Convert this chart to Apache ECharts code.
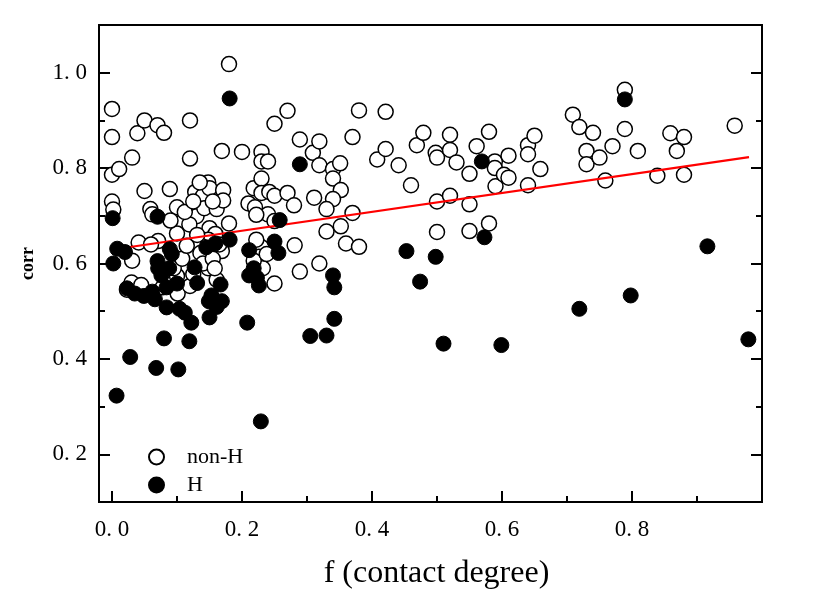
<!DOCTYPE html>
<html>
<head>
<meta charset="utf-8">
<script src="https://cdn.jsdelivr.net/npm/echarts@6/dist/echarts.min.js"></script>
<style>
  html, body { margin: 0; padding: 0; background: #fff; }
  #main { width: 830px; height: 601px; }
</style>
</head>
<body>
<div id="main"></div>
<script>
// non-H residues: [f, corr]
const nonH = [
  [0.18, 1.018], [0.789, 0.964], [0.0, 0.924], [0.0, 0.865], [0.0, 0.786], [0.0, 0.73], [0.002, 0.713],
  [0.011, 0.798], [0.031, 0.822], [0.039, 0.873], [0.05, 0.9], [0.07, 0.89], [0.08, 0.874], [0.12, 0.9],
  [0.12, 0.82], [0.05, 0.752], [0.089, 0.756], [0.059, 0.714], [0.062, 0.703], [0.1, 0.718], [0.108, 0.687],
  [0.1, 0.663], [0.13, 0.699], [0.128, 0.75], [0.14, 0.742], [0.148, 0.77], [0.15, 0.758], [0.142, 0.716],
  [0.161, 0.714], [0.171, 0.754], [0.171, 0.732], [0.18, 0.684], [0.15, 0.674], [0.159, 0.662], [0.148, 0.65],
  [0.169, 0.836], [0.2, 0.834], [0.119, 0.682], [0.071, 0.647], [0.041, 0.644], [0.031, 0.606], [0.023, 0.545],
  [0.1, 0.574], [0.101, 0.537], [0.12, 0.553], [0.136, 0.638], [0.136, 0.622], [0.148, 0.59], [0.161, 0.566],
  [0.169, 0.626], [0.21, 0.726], [0.22, 0.718], [0.218, 0.758], [0.23, 0.778], [0.23, 0.748], [0.242, 0.75],
  [0.25, 0.742], [0.24, 0.703], [0.25, 0.689], [0.222, 0.702], [0.23, 0.834], [0.23, 0.814], [0.24, 0.814],
  [0.25, 0.893], [0.27, 0.92], [0.289, 0.86], [0.27, 0.748], [0.28, 0.722], [0.281, 0.638], [0.289, 0.583],
  [0.25, 0.558], [0.23, 0.634], [0.226, 0.614], [0.232, 0.59], [0.218, 0.606], [0.309, 0.832], [0.319, 0.856],
  [0.319, 0.806], [0.34, 0.798], [0.34, 0.778], [0.351, 0.81], [0.352, 0.754], [0.34, 0.735], [0.33, 0.714],
  [0.311, 0.738], [0.37, 0.706], [0.37, 0.865], [0.38, 0.921], [0.33, 0.667], [0.352, 0.678], [0.36, 0.642],
  [0.38, 0.635], [0.319, 0.6], [0.421, 0.918], [0.408, 0.818], [0.421, 0.84], [0.441, 0.806], [0.46, 0.764],
  [0.469, 0.848], [0.479, 0.874], [0.498, 0.832], [0.5, 0.822], [0.52, 0.87], [0.52, 0.838], [0.53, 0.812],
  [0.5, 0.73], [0.52, 0.742], [0.5, 0.666], [0.55, 0.788], [0.55, 0.724], [0.55, 0.668], [0.561, 0.846],
  [0.58, 0.876], [0.589, 0.814], [0.589, 0.8], [0.59, 0.762], [0.603, 0.786], [0.61, 0.826], [0.61, 0.78],
  [0.58, 0.684], [0.64, 0.848], [0.64, 0.829], [0.64, 0.764], [0.65, 0.868], [0.659, 0.798], [0.709, 0.912],
  [0.719, 0.886], [0.73, 0.836], [0.73, 0.808], [0.74, 0.874], [0.75, 0.822], [0.759, 0.774], [0.77, 0.846],
  [0.789, 0.882], [0.809, 0.836], [0.839, 0.784], [0.859, 0.873], [0.869, 0.836], [0.88, 0.865], [0.88, 0.786],
  [0.958, 0.889],
  [0.095, 0.59], [0.108, 0.61], [0.115, 0.637], [0.131, 0.66], [0.14, 0.6], [0.155, 0.61], [0.165, 0.64],
  [0.112, 0.708], [0.125, 0.73], [0.078, 0.55], [0.03, 0.56], [0.045, 0.555], [0.125, 0.578], [0.158, 0.59],
  [0.222, 0.65], [0.238, 0.62], [0.09, 0.69], [0.06, 0.64], [0.155, 0.73], [0.135, 0.77]
]

// H residues: [f, corr]
const hRes = [
  [0.181, 0.946], [0.789, 0.944], [0.289, 0.808], [0.569, 0.814], [0.001, 0.695], [0.07, 0.698], [0.258, 0.691],
  [0.008, 0.631], [0.02, 0.624], [0.002, 0.6], [0.181, 0.65], [0.159, 0.642], [0.145, 0.634], [0.089, 0.63],
  [0.092, 0.62], [0.211, 0.628], [0.25, 0.646], [0.256, 0.622], [0.573, 0.655], [0.453, 0.626], [0.498, 0.614],
  [0.916, 0.636], [0.07, 0.605], [0.071, 0.59], [0.088, 0.59], [0.076, 0.575], [0.127, 0.592], [0.131, 0.559],
  [0.1, 0.558], [0.167, 0.556], [0.023, 0.548], [0.035, 0.537], [0.049, 0.532], [0.062, 0.541], [0.066, 0.525],
  [0.084, 0.55], [0.211, 0.575], [0.218, 0.59], [0.223, 0.57], [0.226, 0.554], [0.34, 0.575], [0.342, 0.55],
  [0.474, 0.562], [0.153, 0.533], [0.169, 0.521], [0.149, 0.521], [0.161, 0.509], [0.15, 0.487], [0.084, 0.508],
  [0.104, 0.505], [0.112, 0.497], [0.122, 0.476], [0.208, 0.476], [0.342, 0.484], [0.719, 0.505], [0.798, 0.533],
  [0.305, 0.448], [0.33, 0.449], [0.08, 0.443], [0.119, 0.437], [0.51, 0.432], [0.599, 0.429], [0.979, 0.441],
  [0.028, 0.404], [0.068, 0.381], [0.102, 0.378], [0.007, 0.323], [0.229, 0.269]
]

// linear fit end points
const fitF = [0.025, 0.98]
const fitCorr = [0.634, 0.823]

const xMajor = [0, 0.2, 0.4, 0.6, 0.8]
const xMinor = [0.1, 0.3, 0.5, 0.7, 0.9]
const yMajor = [0.2, 0.4, 0.6, 0.8, 1.0]
const yMinor = [0.3, 0.5, 0.7, 0.9]

const serif = '"Liberation Serif", "DejaVu Serif", serif'
const lineStyle = { color: '#000', width: 2 }

function tickLabel(v) {
  return v.toFixed(1).replace('.', '. ')
}

function xAxisOf(pos, ticks, len, withLabels) {
  return {
    type: 'value',
    position: pos,
    min: -0.02,
    max: 1.0,
    axisLine: { show: true, onZero: false, lineStyle: lineStyle },
    axisTick: { show: ticks != null, inside: true, length: len, customValues: ticks || [], lineStyle: lineStyle },
    axisLabel: withLabels ? {
      show: true, customValues: xMajor, formatter: tickLabel, margin: 16,
      fontFamily: serif, fontSize: 23, color: '#000'
    } : { show: false },
    splitLine: { show: false }
  }
}

function yAxisOf(pos, ticks, len, withLabels) {
  return {
    type: 'value',
    position: pos,
    min: 0.1,
    max: 1.1,
    axisLine: { show: true, onZero: false, lineStyle: lineStyle },
    axisTick: { show: true, inside: true, length: len, customValues: ticks, lineStyle: lineStyle },
    axisLabel: withLabels ? {
      show: true, customValues: yMajor, formatter: tickLabel, margin: 12,
      fontFamily: serif, fontSize: 23, color: '#000'
    } : { show: false },
    splitLine: { show: false }
  }
}

let myChart = echarts.init(document.getElementById('main'))

let xBottom = xAxisOf('bottom', xMajor, 11, true)
xBottom.name = 'f (contact degree)'
xBottom.nameLocation = 'middle'
xBottom.nameGap = 56
xBottom.nameTextStyle = { fontFamily: serif, fontSize: 32, color: '#000', padding: [0, 0, 0, 12] }

let yLeft = yAxisOf('left', yMajor, 11, true)
yLeft.name = 'corr'
yLeft.nameLocation = 'middle'
yLeft.nameGap = 62
yLeft.nameRotate = 90
yLeft.nameTextStyle = { fontFamily: serif, fontSize: 18, fontWeight: 'bold', color: '#000' }

myChart.setOption({
  animation: false,
  backgroundColor: '#fff',
  grid: { left: 99, right: 68, top: 25, bottom: 99, containLabel: false },
  legend: {
    orient: 'vertical',
    left: 148,
    top: 446,
    padding: 0,
    itemWidth: 15,
    itemHeight: 15,
    itemGap: 6,
    textStyle: { fontFamily: serif, fontSize: 22, color: '#000', padding: [0, 0, 0, 18] },
    data: ['non-H', 'H']
  },
  xAxis: [
    xBottom,
    xAxisOf('bottom', xMinor, 6, false),
    xAxisOf('top', null, 0, false)
  ],
  yAxis: [
    yLeft,
    yAxisOf('left', yMinor, 6, false),
    yAxisOf('right', yMajor, 11, false),
    yAxisOf('right', yMinor, 6, false)
  ],
  series: [
    {
      name: 'non-H',
      type: 'scatter',
      symbol: 'circle',
      symbolSize: 15,
      itemStyle: { color: '#fff', borderColor: '#000', borderWidth: 1.5, opacity: 1 },
      data: nonH,
      z: 2
    },
    {
      name: 'fit',
      type: 'line',
      data: fitF.map((f, i) => [f, fitCorr[i]]),
      symbol: 'none',
      lineStyle: { color: '#ff0000', width: 2.2 },
      z: 3
    },
    {
      name: 'H',
      type: 'scatter',
      symbol: 'circle',
      symbolSize: 15,
      itemStyle: { color: '#000', borderColor: '#000', borderWidth: 1, opacity: 1 },
      data: hRes,
      z: 4
    }
  ]
})
</script>
</body>
</html>
